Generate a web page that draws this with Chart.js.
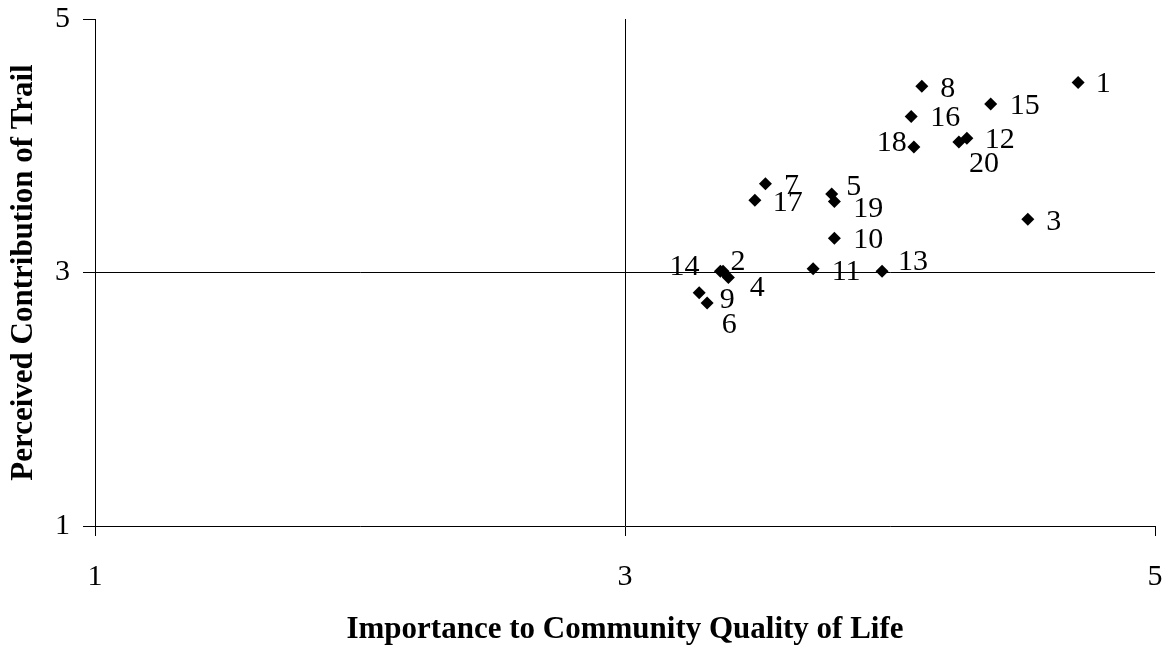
<!DOCTYPE html>
<html>
<head>
<meta charset="utf-8">
<script src="https://cdn.jsdelivr.net/npm/chart.js@4"></script>
<style>
  html, body { margin: 0; padding: 0; background: #fff; }
  #wrap { width: 1167px; height: 649px; }
</style>
</head>
<body>
<div id="wrap"><canvas id="scatterChart" width="1167" height="649"></canvas></div>
<script>
// trail attribute number, importance (x) and perceived contribution (y)
const itemLabels = ['1', '2', '3', '4', '5', '6', '7', '8', '9', '10',
                    '11', '12', '13', '14', '15', '16', '17', '18', '19', '20'];
const importance = [4.71, 3.37, 4.52, 3.39, 3.78, 3.31, 3.53, 4.12, 3.28, 3.79,
                    3.71, 4.29, 3.97, 3.36, 4.38, 4.08, 3.49, 4.09, 3.79, 4.26];
const contribution = [4.50, 3.01, 3.42, 2.96, 3.62, 2.76, 3.70, 4.47, 2.84, 3.27,
                      3.03, 4.06, 3.01, 3.01, 4.33, 4.23, 3.57, 3.99, 3.56, 4.03];
const axisTicks = [1, 3, 5];

// where each number sits relative to its marker (pixels)
const labelOffsets = {
    '1': [25, 2], '2': [15, -9], '3': [26, 3], '4': [29, 11], '5': [22, -7],
    '6': [22, 22], '7': [26, 2], '8': [26, 3], '9': [28, 7], '10': [34, 2],
    '11': [33, 3], '12': [33, 2], '13': [31, -9], '14': [-36, -4], '15': [34, 2],
    '16': [34, 2], '17': [33, 3], '18': [-22, -4], '19': [34, 8], '20': [25, 22]
};

const serif = "'Liberation Serif', 'Times New Roman', serif";

const pointLabels = {
    id: 'pointLabels',
    afterDatasetsDraw(chart) {
        const ctx = chart.ctx;
        const meta = chart.getDatasetMeta(0);
        ctx.save();
        ctx.font = '30px ' + serif;
        ctx.fillStyle = '#000';
        ctx.textAlign = 'center';
        ctx.textBaseline = 'middle';
        meta.data.forEach((pt, i) => {
            const off = labelOffsets[itemLabels[i]] || [25, 0];
            ctx.fillText(itemLabels[i], pt.x + off[0], pt.y + off[1]);
        });
        ctx.restore();
    }
};

// only the midpoint lines cross the plot
const midLine = c => (c.tick && c.tick.value === 3) ? '#000' : 'rgba(0,0,0,0)';

new Chart(document.getElementById('scatterChart'), {
    type: 'scatter',
    data: {
        datasets: [{
            data: importance.map((x, i) => ({ x: x, y: contribution[i] })),
            pointStyle: 'rectRot',
            pointRadius: 6.5,
            pointHoverRadius: 6.5,
            backgroundColor: '#000',
            borderWidth: 0
        }]
    },
    options: {
        responsive: false,
        animation: false,
        layout: { padding: { top: 19, right: 12, bottom: 0, left: 0 } },
        plugins: {
            legend: { display: false },
            tooltip: { enabled: false }
        },
        scales: {
            x: {
                type: 'linear',
                min: 1,
                max: 5,
                afterBuildTicks: axis => { axis.ticks = axisTicks.map(v => ({ value: v })); },
                afterFit: axis => {
                    axis.height = 123;
                    axis.paddingLeft = 0;
                    axis.paddingRight = 0;
                },
                ticks: {
                    color: '#000',
                    padding: 23,
                    font: { family: serif, size: 30 }
                },
                grid: {
                    color: midLine,
                    tickColor: '#000',
                    tickLength: 10,
                    lineWidth: 1
                },
                border: { display: true, color: '#000', width: 1 },
                title: {
                    display: true,
                    text: 'Importance to Community Quality of Life',
                    color: '#000',
                    font: { family: serif, size: 31, weight: 'bold' },
                    padding: { top: 0, bottom: 0 }
                }
            },
            y: {
                type: 'linear',
                min: 1,
                max: 5,
                afterBuildTicks: axis => { axis.ticks = axisTicks.map(v => ({ value: v })); },
                afterFit: axis => {
                    axis.width = 95;
                    axis.paddingTop = 0;
                    axis.paddingBottom = 0;
                },
                ticks: {
                    color: '#000',
                    padding: 13,
                    font: { family: serif, size: 30 }
                },
                grid: {
                    color: midLine,
                    tickColor: '#000',
                    tickLength: 12,
                    lineWidth: 1
                },
                border: { display: true, color: '#000', width: 1 },
                title: {
                    display: true,
                    text: 'Perceived Contribution of Trail',
                    color: '#000',
                    font: { family: serif, size: 31, weight: 'bold' },
                    padding: { top: 5, bottom: 0 }
                }
            }
        }
    },
    plugins: [pointLabels]
});
</script>
</body>
</html>
